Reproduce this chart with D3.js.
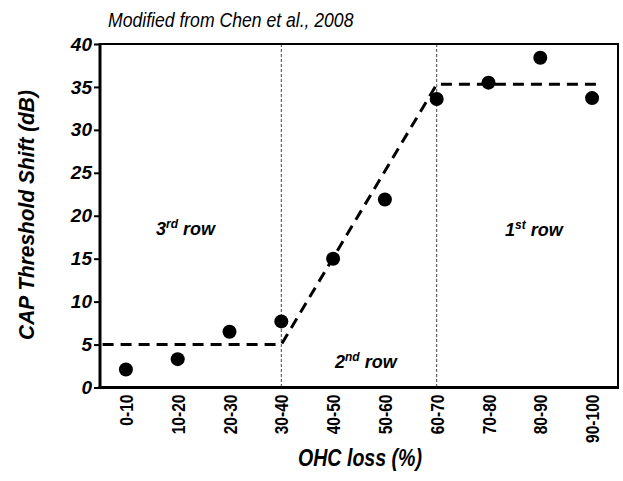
<!DOCTYPE html>
<html><head><meta charset="utf-8">
<script src="https://cdn.jsdelivr.net/npm/d3@7/dist/d3.min.js"></script>
<style>
body{margin:0;background:#fff;}
text{font-family:"Liberation Sans",Arial,sans-serif;}
</style></head>
<body><svg id="c" width="623" height="481"></svg>
<script>
const categories = ["0-10","10-20","20-30","30-40","40-50","50-60","60-70","70-80","80-90","90-100"];
const shift = [2.1, 3.3, 6.5, 7.7, 15.0, 21.9, 33.6, 35.5, 38.4, 33.7];
const fitIndex = [-0.45, 3, 6, 9.15];
const fitValue = [5, 5, 35.3, 35.3];
const dividerCats = ["30-40","60-70"];
const yTicks = [0,5,10,15,20,25,30,35,40];

const svg = d3.select("#c");
const L=100, R=618, T=44, B=387.5;
const x = d3.scalePoint().domain(categories).range([L,R]).padding(0.5);
const y = d3.scaleLinear().domain([0,40]).range([B,T]);
const xi = d3.scaleLinear().domain([0,9]).range([x(categories[0]), x(categories[9])]);

// dividers
svg.selectAll(".div").data(dividerCats).enter().append("line")
  .attr("x1",d=>x(d)).attr("x2",d=>x(d)).attr("y1",T).attr("y2",B)
  .attr("stroke","#444").attr("stroke-width",1).attr("stroke-dasharray","3,2");

// fit line
const fit = fitIndex.map((v,i)=>[v,fitValue[i]]);
svg.append("path").datum(fit)
  .attr("d", d3.line().x(d=>xi(d[0])).y(d=>y(d[1])))
  .attr("fill","none").attr("stroke","#000").attr("stroke-width",3).attr("stroke-dasharray","11,7");

// points
svg.selectAll(".pt").data(shift).enter().append("circle")
  .attr("cx",(d,i)=>x(categories[i])).attr("cy",d=>y(d)).attr("r",7).attr("fill","#000");

// frame
svg.append("rect").attr("x",L).attr("y",T).attr("width",R-L).attr("height",B-T)
  .attr("fill","none").attr("stroke","#000").attr("stroke-width",2);
svg.append("line").attr("x1",L).attr("x2",L).attr("y1",T-1).attr("y2",B+1.5).attr("stroke","#000").attr("stroke-width",3);
svg.append("line").attr("x1",L-1.5).attr("x2",R+1).attr("y1",B).attr("y2",B).attr("stroke","#000").attr("stroke-width",3);

// y axis
const yAxis = svg.append("g").attr("transform",`translate(${L},0)`)
  .call(d3.axisLeft(y).tickValues(yTicks).tickSize(6).tickPadding(2));
yAxis.select(".domain").remove();
yAxis.selectAll("line").attr("stroke-width",2);
yAxis.selectAll("text").attr("font-size",19).attr("font-weight","bold").attr("font-style","italic")
  .attr("fill","#000").style("font-family",'"Liberation Sans",Arial,sans-serif');

// x axis
const xAxis = svg.append("g").attr("transform",`translate(0,${B})`)
  .call(d3.axisBottom(x).tickSize(0).tickPadding(0));
xAxis.select(".domain").remove();
xAxis.selectAll("text").attr("font-size",19).attr("font-weight","bold").attr("fill","#000")
  .attr("text-anchor","end").attr("dy","0.35em").attr("y",0)
  .attr("transform","translate(0,7) rotate(-90) scale(0.82,1)")
  .style("font-family",'"Liberation Sans",Arial,sans-serif');

// labels
svg.append("text").attr("transform","translate(108,27) scale(0.88,1)").attr("font-size",20).attr("font-style","italic")
  .text("Modified from Chen et al., 2008");
svg.append("text").attr("transform","translate(34,215) rotate(-90) scale(0.95,1)").attr("text-anchor","middle")
  .attr("font-size",22).attr("font-weight","bold").attr("font-style","italic")
  .text("CAP Threshold Shift (dB)");
svg.append("text").attr("transform","translate(360,466) scale(0.8,1)").attr("text-anchor","middle")
  .attr("font-size",24.5).attr("font-weight","bold").attr("font-style","italic")
  .text("OHC loss (%)");

function rowLabel(xp, yp, num, sup){
  const t = svg.append("text").attr("x",xp).attr("y",yp).attr("font-size",18)
    .attr("font-weight","bold").attr("font-style","italic");
  t.append("tspan").text(num);
  t.append("tspan").attr("font-size",12).attr("dy",-7).text(sup);
  t.append("tspan").attr("dy",7).text(" row");
}
rowLabel(156, 235, "3", "rd");
rowLabel(335, 368, "2", "nd");
rowLabel(505, 236, "1", "st");
</script></body></html>
